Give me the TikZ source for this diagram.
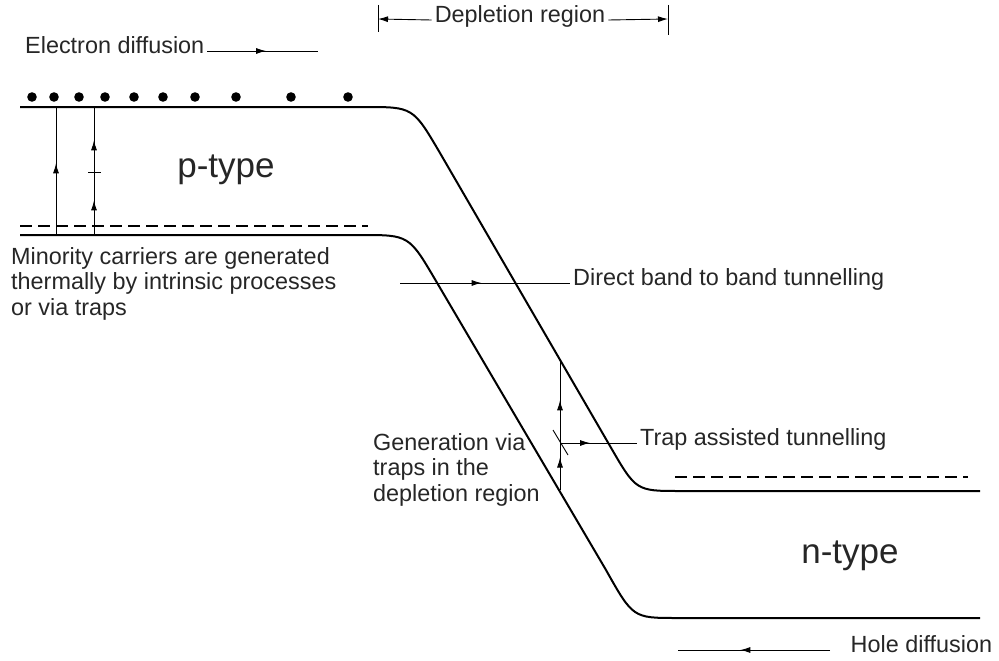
\documentclass[tikz,border=0pt]{standalone}
\usepackage{fontspec}
\setmainfont{Liberation Sans}
\usetikzlibrary{arrows.meta,decorations.markings}

\tikzset{
    midarrow/.style={postaction={decorate,decoration={markings,
        mark=at position #1 with {\arrow{Latex[length=10pt,width=6pt]}}}}},
    band/.style={line width=2pt},
    level/.style={line width=1.2pt,dash pattern=on 12pt off 6pt},
}

\begin{document}
\begin{tikzpicture}[x=1pt,y=-1pt]
    \useasboundingbox (0,0) rectangle (999,661);
    \draw[band] (20,107) -- (365,107) .. controls (413,107) .. (440,153)
        -- (610,446) .. controls (636,491) .. (680,491) -- (980,491);
    \draw[band] (20,235) -- (361,235) .. controls (409,235) .. (436,281)
        -- (606,570) .. controls (633,618) .. (677,618) -- (980,618);
    \draw[level] (20,226) -- (368,226);
    \draw[level] (675,477) -- (968,477);
    \foreach \x in {32,54,79,105,134,163,195,236,291,348}
        \fill (\x,97) circle (4.8pt);
    \begin{scope}[every node/.style={font=\fontsize{23.4}{25.5}\selectfont,text=black!85,inner sep=3pt}]
        \node[anchor=mid west] (ed) at (22,51) {Electron diffusion};
        \node[anchor=mid] (dr) at (520,20) {Depletion region};
        \node[anchor=mid west] (db) at (570,283) {Direct band to band tunnelling};
        \node[anchor=mid west] (ta) at (637,443) {Trap assisted tunnelling};
        \node[anchor=mid west,inner sep=0.5pt] (hd) at (850,650) {Hole diffusion};
        \node[anchor=north west,align=left] (mc) at (8,244) {Minority carriers are generated\\thermally by intrinsic processes\\or via traps};
        \node[anchor=north west,align=left] (gt) at (370,430) {Generation via\\traps in the\\depletion region};
        \node[anchor=base,font=\fontsize{35}{40}\selectfont] (p) at (226,177) {p-type};
        \node[anchor=base,font=\fontsize{35}{40}\selectfont] (n) at (850,563) {n-type};
    \end{scope}
    \begin{scope}[line width=0.9pt]
        \coordinate (edR) at (318,51);
        \coordinate (dl) at (378,19);
        \coordinate (drr) at (668,19);
        \coordinate (dbL) at (400,283);
        \coordinate (tb) at (560,490);
        \coordinate (tt) at (560,360);
        \coordinate (tm) at (560,443);
        \coordinate (hR) at (830,650);
        \coordinate (hL) at (678,650);
        \coordinate (a1) at (56,235);
        \coordinate (b1) at (56,107);
        \coordinate (a2) at (94,235);
        \coordinate (b2) at (94,107);
        \draw[midarrow=0.53] (ed.mid east) -- (edR);
        \draw[-{Latex[length=10pt,width=6pt]}] (dr.mid west) -- (dl);
        \draw[-{Latex[length=10pt,width=6pt]}] (dr.mid east) -- (drr);
        \draw ([shift={(0,-14)}]dl) -- ([shift={(0,13)}]dl);
        \draw ([shift={(0,-14)}]drr) -- ([shift={(0,16)}]drr);
        \draw[midarrow=0.48] (dbL) -- (db.mid west);
        \draw[midarrow=0.25,midarrow=0.69] (tb) -- (tt);
        \draw ([shift={(-7,-13)}]tm) -- ([shift={(8,12)}]tm);
        \draw[midarrow=0.39] (tm) -- (ta.mid west);
        \draw[midarrow=0.59] (hR) -- (hL);
        \draw[midarrow=0.56] (a1) -- (b1);
        \draw[midarrow=0.27,midarrow=0.74] (a2) -- (b2);
        \draw ([shift={(-6,65)}]b2) -- ([shift={(7,65)}]b2);
    \end{scope}
\end{tikzpicture}
\end{document}
